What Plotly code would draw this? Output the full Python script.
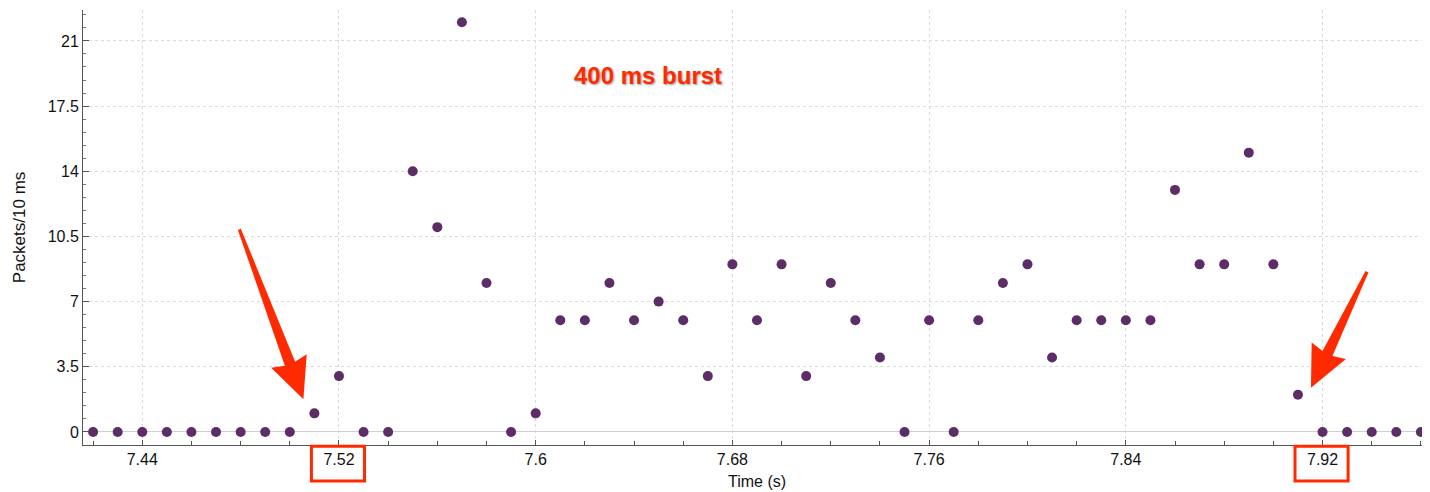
import math
import plotly.graph_objects as go

# Data: packets per 10 ms bin
time_s = [7.42, 7.43, 7.44, 7.45, 7.46, 7.47, 7.48, 7.49, 7.50, 7.51,
          7.52, 7.53, 7.54, 7.55, 7.56, 7.57, 7.58, 7.59, 7.60, 7.61,
          7.62, 7.63, 7.64, 7.65, 7.66, 7.67, 7.68, 7.69, 7.70, 7.71,
          7.72, 7.73, 7.74, 7.75, 7.76, 7.77, 7.78, 7.79, 7.80, 7.81,
          7.82, 7.83, 7.84, 7.85, 7.86, 7.87, 7.88, 7.89, 7.90, 7.91,
          7.92, 7.93, 7.94, 7.95, 7.96]
packets = [0, 0, 0, 0, 0, 0, 0, 0, 0, 1,
           3, 0, 0, 14, 11, 22, 8, 0, 1, 6,
           6, 8, 6, 7, 6, 3, 9, 6, 9, 3,
           8, 6, 4, 0, 6, 0, 6, 8, 9, 4,
           6, 6, 6, 6, 13, 9, 9, 15, 9, 2,
           0, 0, 0, 0, 0]

x_ticks = [7.44, 7.52, 7.6, 7.68, 7.76, 7.84, 7.92]
x_tick_labels = ["7.44", "7.52", "7.6", "7.68", "7.76", "7.84", "7.92"]
y_ticks = [0, 3.5, 7, 10.5, 14, 17.5, 21]
y_tick_labels = ["0", "3.5", "7", "10.5", "14", "17.5", "21"]

burst_start_idx = 9   # 7.51
burst_end_idx = 49    # 7.91
highlighted_ticks = [7.52, 7.92]

FONT = "Liberation Sans, Arial, Helvetica, sans-serif"
RED = "#ff2a00"

# the page body has an 8 px margin, so the figure is sized to compensate
W, H = 1422, 484
ML, MR, MT, MB = 75, 0, 2, 47
X_RANGE = [7.4159, 7.9637]
Y_RANGE = [-0.7, 22.66]
PW, PH = W - ML - MR, H - MT - MB
OFF = 8  # page offset of the figure


def px_to_data(px, py):
    """Page pixel -> data coordinates."""
    x = X_RANGE[0] + (px - OFF - ML) / PW * (X_RANGE[1] - X_RANGE[0])
    y = Y_RANGE[1] - (py - OFF - MT) / PH * (Y_RANGE[1] - Y_RANGE[0])
    return x, y


def data_to_px(x, y):
    px = OFF + ML + (x - X_RANGE[0]) / (X_RANGE[1] - X_RANGE[0]) * PW
    py = OFF + MT + (Y_RANGE[1] - y) / (Y_RANGE[1] - Y_RANGE[0]) * PH
    return px, py


def arrow_path(x, y, tip_off, tail_off, head_len=38, head_half=19,
               tail_half=1.6, base_half=5.5):
    """Tapered arrow pointing at data point (x, y); offsets in pixels."""
    cx, cy = data_to_px(x, y)
    px_, py_ = cx + tip_off[0], cy + tip_off[1]
    tx, ty = cx + tail_off[0], cy + tail_off[1]
    dx, dy = px_ - tx, py_ - ty
    L = math.hypot(dx, dy)
    ux, uy = dx / L, dy / L
    nx, ny = -uy, ux
    bx, by = px_ - ux * head_len, py_ - uy * head_len
    pts = [
        (tx + nx * tail_half, ty + ny * tail_half),
        (bx + nx * base_half, by + ny * base_half),
        (bx - ux * 3 + nx * head_half, by - uy * 3 + ny * head_half),
        (px_, py_),
        (bx - ux * 3 - nx * head_half, by - uy * 3 - ny * head_half),
        (bx - nx * base_half, by - ny * base_half),
        (tx - nx * tail_half, ty - ny * tail_half),
    ]
    d = []
    for i, (a, b) in enumerate(pts):
        dxp, dyp = px_to_data(a, b)
        d.append(("M" if i == 0 else "L") + f"{dxp:.6f},{dyp:.6f}")
    return " ".join(d) + " Z"


fig = go.Figure()
fig.add_trace(go.Scatter(
    x=time_s, y=packets, mode="markers",
    marker=dict(color="#5c2d66", size=10),
    hoverinfo="x+y", showlegend=False,
))

fig.update_layout(
    width=W, height=H,
    margin=dict(l=ML, r=MR, t=MT, b=MB),
    paper_bgcolor="white", plot_bgcolor="white",
    font=dict(family=FONT, color="#111111", size=16),
    xaxis=dict(
        range=X_RANGE, automargin=False,
        tickmode="array", tickvals=x_ticks, ticktext=x_tick_labels,
        ticks="inside", ticklen=5, tickcolor="#555555",
        showline=True, linecolor="#555555", linewidth=1,
        showgrid=True, gridcolor="#dadada", griddash="dot", gridwidth=1,
        zeroline=False,
        minor=dict(dtick=0.02, tick0=7.44, ticks="inside", ticklen=4,
                   tickcolor="#555555", showgrid=False),
        tickfont=dict(size=16),
    ),
    yaxis=dict(
        range=Y_RANGE, automargin=False,
        tickmode="array", tickvals=y_ticks, ticktext=y_tick_labels,
        ticks="inside", ticklen=6, tickcolor="#555555",
        showline=True, linecolor="#555555", linewidth=1,
        showgrid=True, gridcolor="#dadada", griddash="dot", gridwidth=1,
        zeroline=True, zerolinecolor="#cfcfcf", zerolinewidth=1,
        minor=dict(dtick=0.7, tick0=0, ticks="inside", ticklen=3,
                   tickcolor="#777777", showgrid=False),
        tickfont=dict(size=16),
    ),
)

# axis titles
fig.add_annotation(
    x=0.5, y=-0.085, xref="paper", yref="paper", text="Time (s)",
    showarrow=False, xanchor="center", yanchor="middle",
    font=dict(family=FONT, size=16, color="#111111"),
)
fig.add_annotation(
    x=-0.047, y=0.5, xref="paper", yref="paper", text="Packets/10 ms",
    showarrow=False, xanchor="center", yanchor="middle", textangle=-90,
    font=dict(family=FONT, size=17, color="#111111"),
)

# burst label
lx, ly = px_to_data(648, 75)
fig.add_annotation(
    x=lx, y=ly, xref="x", yref="y", text="<b>400 ms burst</b>",
    showarrow=False, xanchor="center", yanchor="middle",
    font=dict(family=FONT, size=24, color=RED, shadow="1px 1px 2px #9a9a9a"),
)

# tapered arrows pointing at the burst start and end
for idx, tip_off, tail_off in [
    (burst_start_idx, (-11, -14), (-75, -184)),
    (burst_end_idx, (13, -7), (69, -123)),
]:
    fig.add_shape(
        type="path", xref="x", yref="y",
        path=arrow_path(time_s[idx], packets[idx], tip_off, tail_off),
        fillcolor=RED, line=dict(width=0), layer="above",
    )

# red boxes around the highlighted tick labels
for t in highlighted_ticks:
    fig.add_shape(
        type="rect", xref="x", yref="paper",
        x0=t - 0.0112, x1=t + 0.0104, y0=-0.0828, y1=-0.003,
        line=dict(color=RED, width=3), fillcolor="rgba(0,0,0,0)",
        layer="above",
    )

fig.write_html("out.html")
